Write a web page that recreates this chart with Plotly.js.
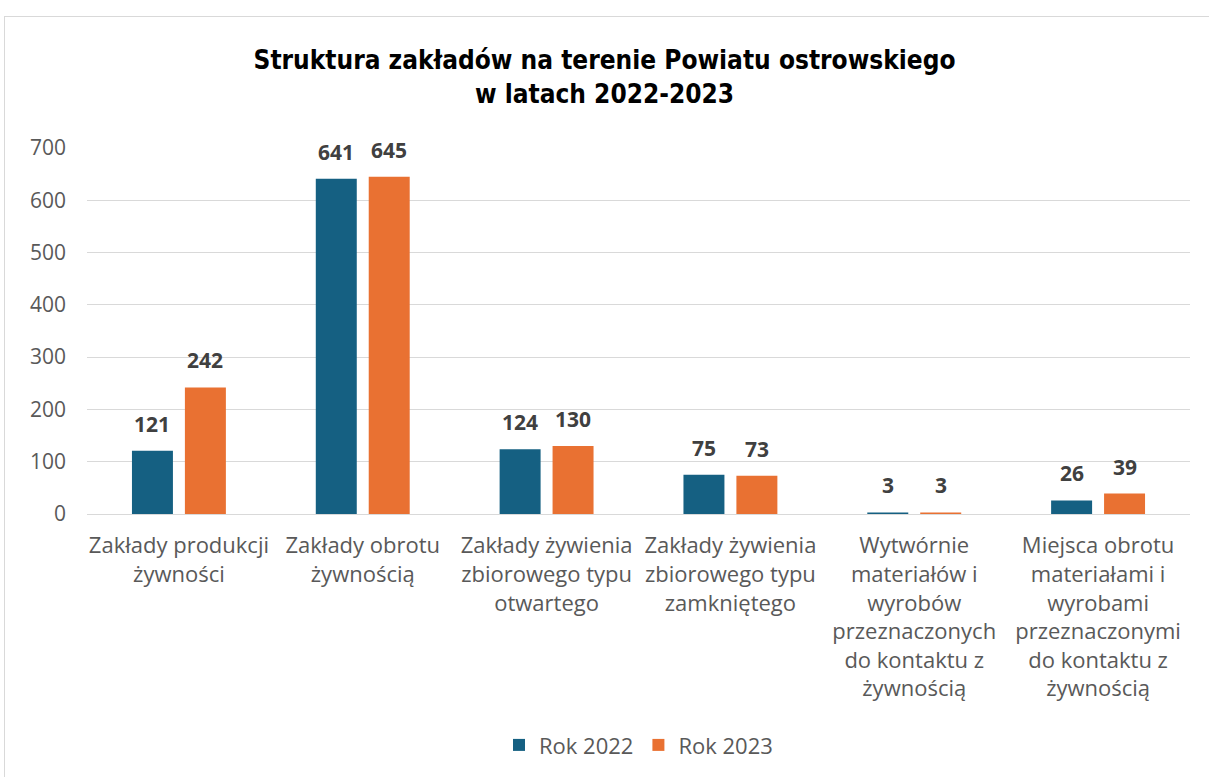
<!DOCTYPE html>
<html>
<head>
<meta charset="utf-8">
<script src="https://cdn.plot.ly/plotly-3.0.1.min.js"></script>
<style>
  body { margin: 0; background: #fff; }
  #chart { width: 1209px; height: 777px; }
  #frame { position: absolute; left: 4px; top: 16px; width: 1230px; height: 800px;
           border: 1px solid #d9d9d9; pointer-events: none; }
</style>
</head>
<body>
<div id="chart"></div>
<div id="frame"></div>
<script>
var categories = [
  "Zakłady produkcji<br>żywności",
  "Zakłady obrotu<br>żywnością",
  "Zakłady żywienia<br>zbiorowego typu<br>otwartego",
  "Zakłady żywienia<br>zbiorowego typu<br>zamkniętego",
  "Wytwórnie<br>materiałów i<br>wyrobów<br>przeznaczonych<br>do kontaktu z<br>żywnością",
  "Miejsca obrotu<br>materiałami i<br>wyrobami<br>przeznaczonymi<br>do kontaktu z<br>żywnością"
];
var rok2022 = [121, 641, 124, 75, 3, 26];
var rok2023 = [242, 645, 130, 73, 3, 39];
var seriesNames = ["Rok 2022", "Rok 2023"];

var font = "Open Sans, Liberation Sans, Arial, sans-serif";

var trace1 = {
  x: categories,
  y: rok2022,
  name: seriesNames[0],
  type: "bar",
  marker: { color: "#156082" },
  hoverinfo: "y"
};
var trace2 = {
  x: categories,
  y: rok2023,
  name: seriesNames[1],
  type: "bar",
  marker: { color: "#E97132" },
  hoverinfo: "y"
};

// data labels above bars
var labels = [];
function addLabels(values, shift) {
  values.forEach(function (v, i) {
    labels.push({
      x: categories[i], y: v, text: String(v),
      xref: "x", yref: "y", xshift: shift, yshift: 11,
      yanchor: "bottom", showarrow: false,
      font: { family: font, size: 21, color: "#404040", weight: "bold" }
    });
  });
}
addLabels(rok2022, -26.5);
addLabels(rok2023, 26.5);

var layout = {
  width: 1209,
  height: 777,
  margin: { l: 87, r: 19, t: 148, b: 262 },
  paper_bgcolor: "#fff",
  plot_bgcolor: "#fff",
  font: { family: font, color: "#595959" },
  title: {
    text: "<b>Struktura zakładów na terenie Powiatu ostrowskiego<br>w latach 2022-2023</b>",
    font: { family: "Liberation Sans Narrow, DejaVu Sans Condensed, sans-serif", size: 26, color: "#000" },
    x: 0.5, xanchor: "center", y: 0.911, yanchor: "middle"
  },
  barmode: "group",
  bargap: 0.424,
  bargroupgap: 0.226,
  xaxis: {
    showline: true, linecolor: "#d9d9d9", linewidth: 1,
    ticks: "", tickfont: { size: 22, color: "#595959" },
    tickangle: 0, ticklabelstandoff: 12
  },
  yaxis: {
    range: [0, 700], dtick: 100,
    showgrid: true, gridcolor: "#d9d9d9", gridwidth: 1,
    zeroline: true, zerolinecolor: "#d9d9d9",
    ticks: "", tickfont: { size: 21, color: "#595959" },
    ticklabelstandoff: 20
  },
  legend: {
    orientation: "h", x: 0.5, xanchor: "center", y: -0.627, yanchor: "middle",
    font: { size: 22, color: "#595959" }
  },
  annotations: labels,
  showlegend: true
};

Plotly.newPlot("chart", [trace1, trace2], layout, { displayModeBar: false, staticPlot: true });
</script>
</body>
</html>
